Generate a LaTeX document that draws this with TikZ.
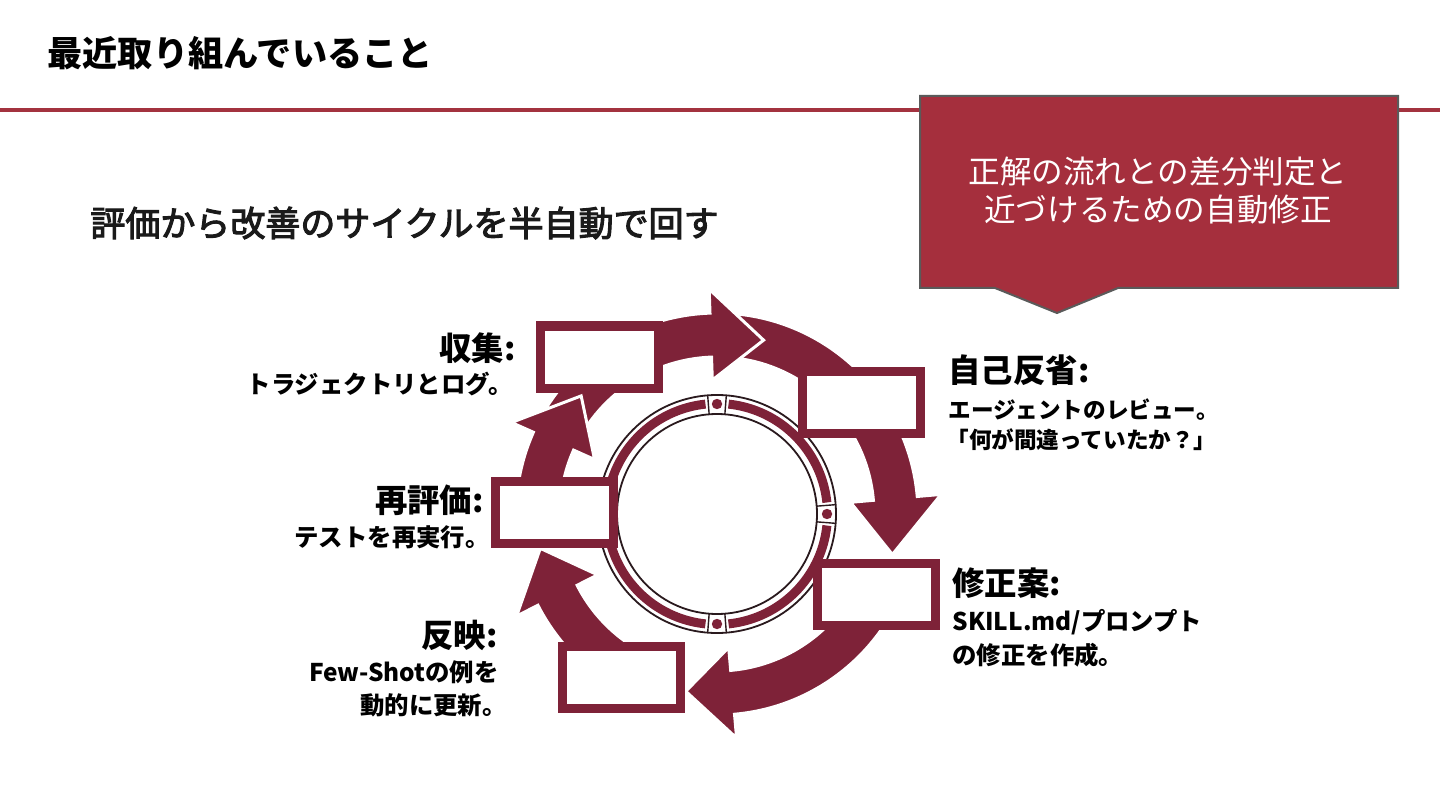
\documentclass[tikz,border=0pt]{standalone}
\usepackage{fontspec}
\newfontfamily\jp{Noto Sans CJK JP}
\newfontfamily\jpmed[FakeBold=3]{Noto Sans CJK JP}
\usetikzlibrary{calc}
\definecolor{maroon}{HTML}{7E2238}
\definecolor{callred}{HTML}{A52F3D}
\definecolor{linered}{HTML}{A3323F}
\definecolor{callgray}{HTML}{5A5A5A}
\definecolor{ringline}{HTML}{2A1A1E}
\definecolor{txt}{HTML}{1A1A1A}
\newcommand\cycarrow[3]{%
  \path[arr] ($(C)+(#1:201)$) arc[start angle=#1, end angle=#2, radius=100.5pt]
    -- ($(C)+(#2:225)$) -- ($(C)+(#3:180)$) -- ($(C)+(#2:134)$)
    -- ($(C)+(#2:157)$) arc[start angle=#2, end angle=#1, radius=78.5pt] -- cycle;}
\newcommand\ringcell[1]{%
  \draw[ringline, line width=0.7pt] ($(C)+(#1+4.5:100)$) -- ($(C)+(#1+4.5:119)$);
  \draw[ringline, line width=0.7pt] ($(C)+(#1-4.5:100)$) -- ($(C)+(#1-4.5:119)$);
  \fill[maroon] ($(C)+(#1:110)$) circle[radius=2.6pt];}
\newcommand\ringband[2]{%
  \draw[maroon, line width=4.5pt] ($(C)+(#1:110.5)$) arc[start angle=#1, end angle=#2, radius=55.25pt];}
\begin{document}
\begin{tikzpicture}[x=0.5pt,y=0.5pt,
  arr/.style={fill=maroon, draw=white, line width=1.5pt, line join=miter},
  box/.style={draw=maroon, fill=white, line width=4.5pt, minimum width=59pt, minimum height=31pt, inner sep=0pt},
  head/.style={font=\jp\bfseries\fontsize{16.2pt}{19pt}\selectfont, text=black, inner sep=0pt},
  sub/.style={font=\jp\bfseries\fontsize{12.2pt}{15pt}\selectfont, text=black, inner sep=0pt},
  subr/.style={font=\jp\bfseries\fontsize{11.3pt}{14pt}\selectfont, text=black, inner sep=0pt}]
\useasboundingbox (0,0) rectangle (1440,810);
\fill[white] (0,0) rectangle (1440,810);
% title and rule
\draw[linered, line width=2pt] (0,700) -- (1440,700);
\node[anchor=west, inner sep=0pt, text=black, font=\jp\bfseries\fontsize{17.6pt}{20pt}\selectfont] (title) at (47,757) {最近取り組んでいること};
\node[anchor=west, inner sep=0pt, text=txt, font=\jpmed\fontsize{17.5pt}{20pt}\selectfont] (subtitle) at (90,587) {評価から改善のサイクルを半自動で回す};
% callout
\path[draw=callgray, fill=callred, line width=1pt] (920,714) -- (1398,714) -- (1398,522) -- (1118,522) -- (1057,497) -- (995,522) -- (920,522) -- cycle;
\node[align=center, text=white, inner sep=0pt, font=\jp\fontsize{15.8pt}{19pt}\selectfont] (callout) at (1158,619) {正解の流れとの差分判定と\\近づけるための自動修正};
% cycle
\coordinate (C) at (717,296);
\cycarrow{86}{5}{-13}
\cycarrow{-25}{-85}{-100}
\cycarrow{250}{207}{191}
\cycarrow{160}{92}{75}
\cycarrow{182}{156}{139}
% ring
\draw[ringline, line width=0.9pt] (C) circle[radius=59.5pt];
\draw[ringline, line width=0.9pt] (C) circle[radius=50pt];
\ringband{6}{84}
\ringband{96}{174}
\ringband{186}{264}
\ringband{276}{354}
\ringcell{90}
\ringcell{0}
\ringcell{270}
\ringcell{180}
% boxes
\node[box] (collect) at (599.5,453) {};
\node[box] (reflect) at (861,408) {};
\node[box] (proposal) at (876,216) {};
\node[box] (apply) at (621,132.5) {};
\node[box] (reeval) at (554,297.5) {};
% labels
\node[head, anchor=east] (collectH) at (516,462) {収集:};
\node[sub, anchor=east] (collectS) at (513,426) {トラジェクトリとログ。};
\node[head, anchor=west] (reflectH) at (948,440) {自己反省:};
\node[subr, anchor=west] (reflectS1) at (948,400) {エージェントのレビュー。};
\node[subr, anchor=west] (reflectS2) at (946,370) {「何が間違っていたか？」};
\node[head, anchor=west] (proposalH) at (952,227) {修正案:};
\node[sub, anchor=west] (proposalS1) at (952,188) {SKILL.md/プロンプト};
\node[sub, anchor=west] (proposalS2) at (952,155) {の修正を作成。};
\node[head, anchor=east] (reevalH) at (484,310) {再評価:};
\node[sub, anchor=east] (reevalS) at (490,273) {テストを再実行。};
\node[head, anchor=east] (applyH) at (498,175) {反映:};
\node[sub, anchor=east] (applyS1) at (499,138) {Few-Shotの例を};
\node[sub, anchor=east] (applyS2) at (507,105) {動的に更新。};
\end{tikzpicture}
\end{document}
